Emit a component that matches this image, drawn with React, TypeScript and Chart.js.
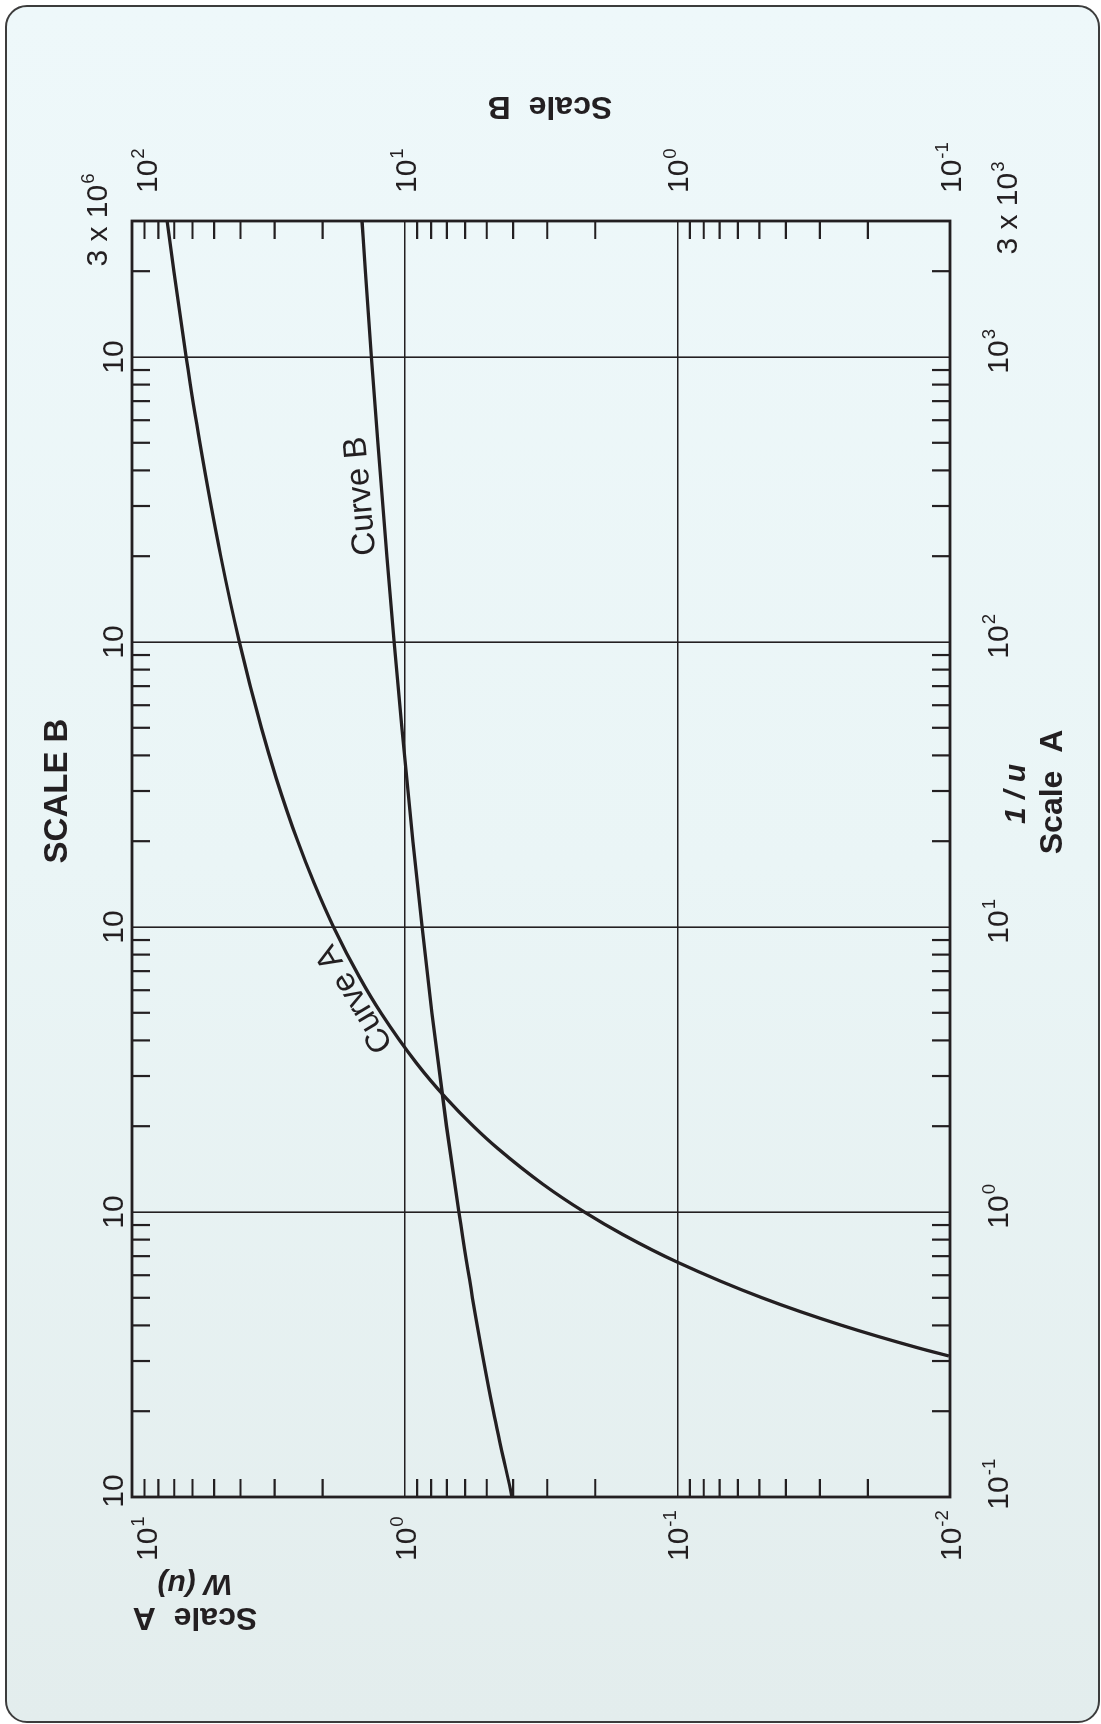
import { useEffect, useRef } from "react";
import { Chart, registerables } from "chart.js";

Chart.register(...registerables);

// ---- Curve A (Scale A): 1/u vs W(u)
const curveA_invU = [0.3125, 0.3333, 0.4, 0.5, 0.6667, 0.8333, 1, 1.25, 1.667, 2, 2.5, 3.333, 5, 6.667, 10, 14.29, 20, 33.33, 50, 100, 200, 500, 1000, 2000, 3000];
const curveA_W = [0.0101, 0.01305, 0.02491, 0.0489, 0.1, 0.1584, 0.2194, 0.3106, 0.4544, 0.5598, 0.7024, 0.9057, 1.2227, 1.4645, 1.8229, 2.1508, 2.4679, 2.9591, 3.3547, 4.0379, 4.7261, 5.6394, 6.3315, 7.0242, 7.4296];

// ---- Curve B (Scale B): 1/u vs W(u)
const curveB_invU = [100, 200, 500, 1000, 2000, 5000, 1e4, 2e4, 5e4, 1e5, 2e5, 5e5, 1e6, 2e6, 3e6];
const curveB_W = [4.0379, 4.7261, 5.6394, 6.3315, 7.0242, 7.9402, 8.6332, 9.3263, 10.2426, 10.9357, 11.6289, 12.5451, 13.2383, 13.9314, 14.3369];

// ---- Axis ranges
const xA_range = [0.1, 3000];   // 1/u, Scale A
const yA_range = [0.01, 10];    // W(u), Scale A
const xB_range = [100, 3e6];    // 1/u, Scale B
const yB_range = [0.1, 100];    // W(u), Scale B

// ---- Tick labels
const xA_tickVals = [0.1, 1, 10, 100, 1000, 3000];
const xA_tickBase = ["10", "10", "10", "10", "10", "3 x 10"];
const xA_tickSup = ["-1", "0", "1", "2", "3", "3"];

const yA_tickVals = [10, 1, 0.1, 0.01];
const yA_tickBase = ["10", "10", "10", "10"];
const yA_tickSup = ["1", "0", "-1", "-2"];

const xB_tickVals = [100, 1000, 1e4, 1e5, 1e6, 3e6];
const xB_tickBase = ["10", "10", "10", "10", "10", "3 x 10"];
const xB_tickSup = ["", "", "", "", "", "6"];

const yB_tickVals = [100, 10, 1, 0.1];
const yB_tickBase = ["10", "10", "10", "10"];
const yB_tickSup = ["2", "1", "0", "-1"];

const curveLabels = ["Curve A", "Curve B"];

const INK = "#231f21";
const FONT = "'Liberation Sans', Arial, Helvetica, sans-serif";

function logTicks(min: number, max: number): number[] {
  const out: number[] = [];
  const n0 = Math.floor(Math.log10(min));
  const n1 = Math.ceil(Math.log10(max));
  for (let n = n0; n <= n1; n++) {
    for (let k = 1; k <= 9; k++) {
      const v = parseFloat((k * Math.pow(10, n)).toPrecision(6));
      if (v >= min * 0.9999 && v <= max * 1.0001) out.push(v);
    }
  }
  return out;
}

function isDecade(v: number) {
  const l = Math.log10(v);
  return Math.abs(l - Math.round(l)) < 1e-7;
}

function supText(ctx: CanvasRenderingContext2D, base: string, sup: string, x: number, y: number, size: number, align: string) {
  ctx.font = `${size}px ${FONT}`;
  const wb = ctx.measureText(base).width;
  const ss = size * 0.62;
  ctx.font = `${ss}px ${FONT}`;
  const ws = sup ? ctx.measureText(sup).width + 1 : 0;
  const total = wb + ws;
  let sx = x;
  if (align === "center") sx = x - total / 2;
  else if (align === "right") sx = x - total;
  else if (align === "base") sx = x - wb / 2;
  ctx.textAlign = "left";
  ctx.textBaseline = "alphabetic";
  ctx.font = `${size}px ${FONT}`;
  ctx.fillText(base, sx, y);
  if (sup) {
    ctx.font = `${ss}px ${FONT}`;
    ctx.fillText(sup, sx + wb + 1, y - size * 0.42);
  }
}

const overlayPlugin = {
  id: "overlay",
  afterDraw(chart: any) {
    const { ctx, chartArea: a, scales } = chart;
    const { x, y, x2, y2 } = scales;
    ctx.save();
    ctx.strokeStyle = INK;
    ctx.fillStyle = INK;
    ctx.lineCap = "butt";

    // inward minor ticks
    const TL = 18;
    ctx.lineWidth = 2.2;
    const minor = (s: any) => s.ticks.map((t: any) => t.value).filter((v: number) => !isDecade(v) && v > s.min * 1.0001 && v < s.max * 0.9999);
    ctx.beginPath();
    for (const v of minor(x)) { const p = x.getPixelForValue(v); ctx.moveTo(p, a.bottom); ctx.lineTo(p, a.bottom - TL); }
    for (const v of minor(x2)) { const p = x2.getPixelForValue(v); ctx.moveTo(p, a.top); ctx.lineTo(p, a.top + TL); }
    for (const v of minor(y)) { const p = y.getPixelForValue(v); ctx.moveTo(a.left, p); ctx.lineTo(a.left + TL, p); }
    for (const v of minor(y2)) { const p = y2.getPixelForValue(v); ctx.moveTo(a.right, p); ctx.lineTo(a.right - TL, p); }
    ctx.stroke();

    // frame
    ctx.lineWidth = 2.8;
    ctx.strokeRect(a.left, a.top, a.right - a.left, a.bottom - a.top);

    const TS = 30;
    // bottom labels (1/u Scale A)
    xA_tickVals.forEach((v, i) => {
      const p = x.getPixelForValue(v);
      if (xA_tickBase[i].startsWith("3")) supText(ctx, xA_tickBase[i], xA_tickSup[i], p + 13, a.bottom + 67, TS, "center");
      else supText(ctx, xA_tickBase[i], xA_tickSup[i], p + (i === 0 ? 4 : 0), a.bottom + 58, TS, "base");
    });
    // top labels (1/u Scale B)
    xB_tickVals.forEach((v, i) => {
      const p = x2.getPixelForValue(v);
      if (xB_tickBase[i].startsWith("3")) supText(ctx, xB_tickBase[i], xB_tickSup[i], p + 1, a.top - 25, TS, "center");
      else supText(ctx, xB_tickBase[i], xB_tickSup[i], p + (i === 0 ? 6 : 0), a.top - 9, TS, "base");
    });
    // left labels (W Scale A)
    yA_tickVals.forEach((v, i) => {
      const p = y.getPixelForValue(v);
      const by = v >= y.max * 0.9999 ? a.top + 25 : p + 11;
      supText(ctx, yA_tickBase[i], yA_tickSup[i], a.left - 64, by, TS, "left");
    });
    // right labels (W Scale B)
    yB_tickVals.forEach((v, i) => {
      const p = y2.getPixelForValue(v);
      const by = v >= y2.max * 0.9999 ? a.top + 25 : p + 11;
      supText(ctx, yB_tickBase[i], yB_tickSup[i], a.right + 28, by, TS, "left");
    });

    // titles
    ctx.textAlign = "center";
    ctx.textBaseline = "alphabetic";
    ctx.font = `bold 33px ${FONT}`;
    ctx.fillText("SCALE B", 933, 67);
    ctx.font = `italic bold 30px ${FONT}`;
    ctx.fillText("1 / u", 930, a.bottom + 75);
    ctx.font = `bold 32px ${FONT}`;
    ctx.fillText("Scale  A", 932, a.bottom + 112);

    // left title (rotated)
    ctx.save();
    ctx.translate(149, 195);
    ctx.rotate(-Math.PI / 2);
    ctx.font = `italic bold 30px ${FONT}`;
    ctx.fillText("W (u)", 0, 0);
    ctx.restore();
    ctx.save();
    ctx.translate(116, 195);
    ctx.rotate(-Math.PI / 2);
    ctx.font = `bold 32px ${FONT}`;
    ctx.fillText("Scale  A", 0, 0);
    ctx.restore();

    // right title (rotated)
    ctx.save();
    ctx.translate(a.right + 124, 550);
    ctx.rotate(-Math.PI / 2);
    ctx.font = `bold 32px ${FONT}`;
    ctx.fillText("Scale  B", 0, 0);
    ctx.restore();

    // curve labels
    ctx.font = `33px ${FONT}`;
    ctx.textBaseline = "middle";
    ctx.save();
    ctx.translate(x.getPixelForValue(5.6), y.getPixelForValue(1.52));
    ctx.rotate((-31 * Math.PI) / 180);
    ctx.fillText(curveLabels[0], 0, 0);
    ctx.restore();
    ctx.save();
    ctx.translate(x2.getPixelForValue(3.25e5), y2.getPixelForValue(14.45));
    ctx.rotate((-5 * Math.PI) / 180);
    ctx.fillText(curveLabels[1], 0, 0);
    ctx.restore();

    ctx.restore();
  },
};

function makeScale(pos: string, range: number[], size: number, grid: boolean) {
  const [min, max] = range;
  return {
    type: "logarithmic",
    position: pos,
    min,
    max,
    afterBuildTicks: (s: any) => {
      s.ticks = logTicks(min, max).map((v) => ({ value: v }));
    },
    afterFit: (s: any) => {
      if (pos === "top" || pos === "bottom") s.height = size;
      else s.width = size;
    },
    ticks: { display: false },
    border: { display: false },
    grid: {
      display: grid,
      drawTicks: false,
      lineWidth: 1.6,
      color: (c: any) => {
        const v = c.tick ? c.tick.value : NaN;
        if (!isFinite(v)) return "rgba(0,0,0,0)";
        return isDecade(v) && v > min * 1.0001 && v < max * 0.9999 ? INK : "rgba(0,0,0,0)";
      },
    },
  };
}

export default function App() {
  const ref = useRef<HTMLCanvasElement>(null);
  useEffect(() => {
    const chart = new Chart(ref.current as HTMLCanvasElement, {
      type: "line",
      data: {
        datasets: [
          {
            label: curveLabels[0],
            data: curveA_invU.map((v, i) => ({ x: v, y: curveA_W[i] })),
            xAxisID: "x",
            yAxisID: "y",
            borderColor: INK,
            borderWidth: 3.3,
            pointRadius: 0,
            cubicInterpolationMode: "monotone",
            fill: false,
          },
          {
            label: curveLabels[1],
            data: curveB_invU.map((v, i) => ({ x: v, y: curveB_W[i] })),
            xAxisID: "x2",
            yAxisID: "y2",
            borderColor: INK,
            borderWidth: 3.3,
            pointRadius: 0,
            cubicInterpolationMode: "monotone",
            fill: false,
          },
        ],
      } as any,
      options: {
        responsive: false,
        animation: false,
        devicePixelRatio: 1,
        events: [],
        layout: { padding: 0 },
        plugins: { legend: { display: false }, tooltip: { enabled: false } },
        scales: {
          x: makeScale("bottom", xA_range, 151, true),
          y: makeScale("left", yA_range, 227, true),
          x2: makeScale("top", xB_range, 132, false),
          y2: makeScale("right", yB_range, 221, false),
        },
      } as any,
      plugins: [overlayPlugin],
    });
    return () => chart.destroy();
  }, []);

  return (
    <div style={{ position: "fixed", left: 0, top: 0, width: 1101, height: 1724, background: "#ffffff", overflow: "hidden" }}>
      <div
        style={{
          position: "absolute",
          left: 5,
          top: 5,
          width: 1095,
          height: 1718,
          boxSizing: "border-box",
          border: "2px solid #3c3c3c",
          borderRadius: 22,
          background: "linear-gradient(180deg, #eef8fa 0%, #eaf5f6 50%, #e3eded 100%)",
        }}
      />
      <div
        style={{
          position: "absolute",
          left: 0,
          top: 0,
          width: 1724,
          height: 1101,
          transformOrigin: "0 0",
          transform: "translate(0px, 1724px) rotate(-90deg)",
        }}
      >
        <canvas ref={ref} width={1724} height={1101} style={{ display: "block", width: 1724, height: 1101 }} />
      </div>
    </div>
  );
}
